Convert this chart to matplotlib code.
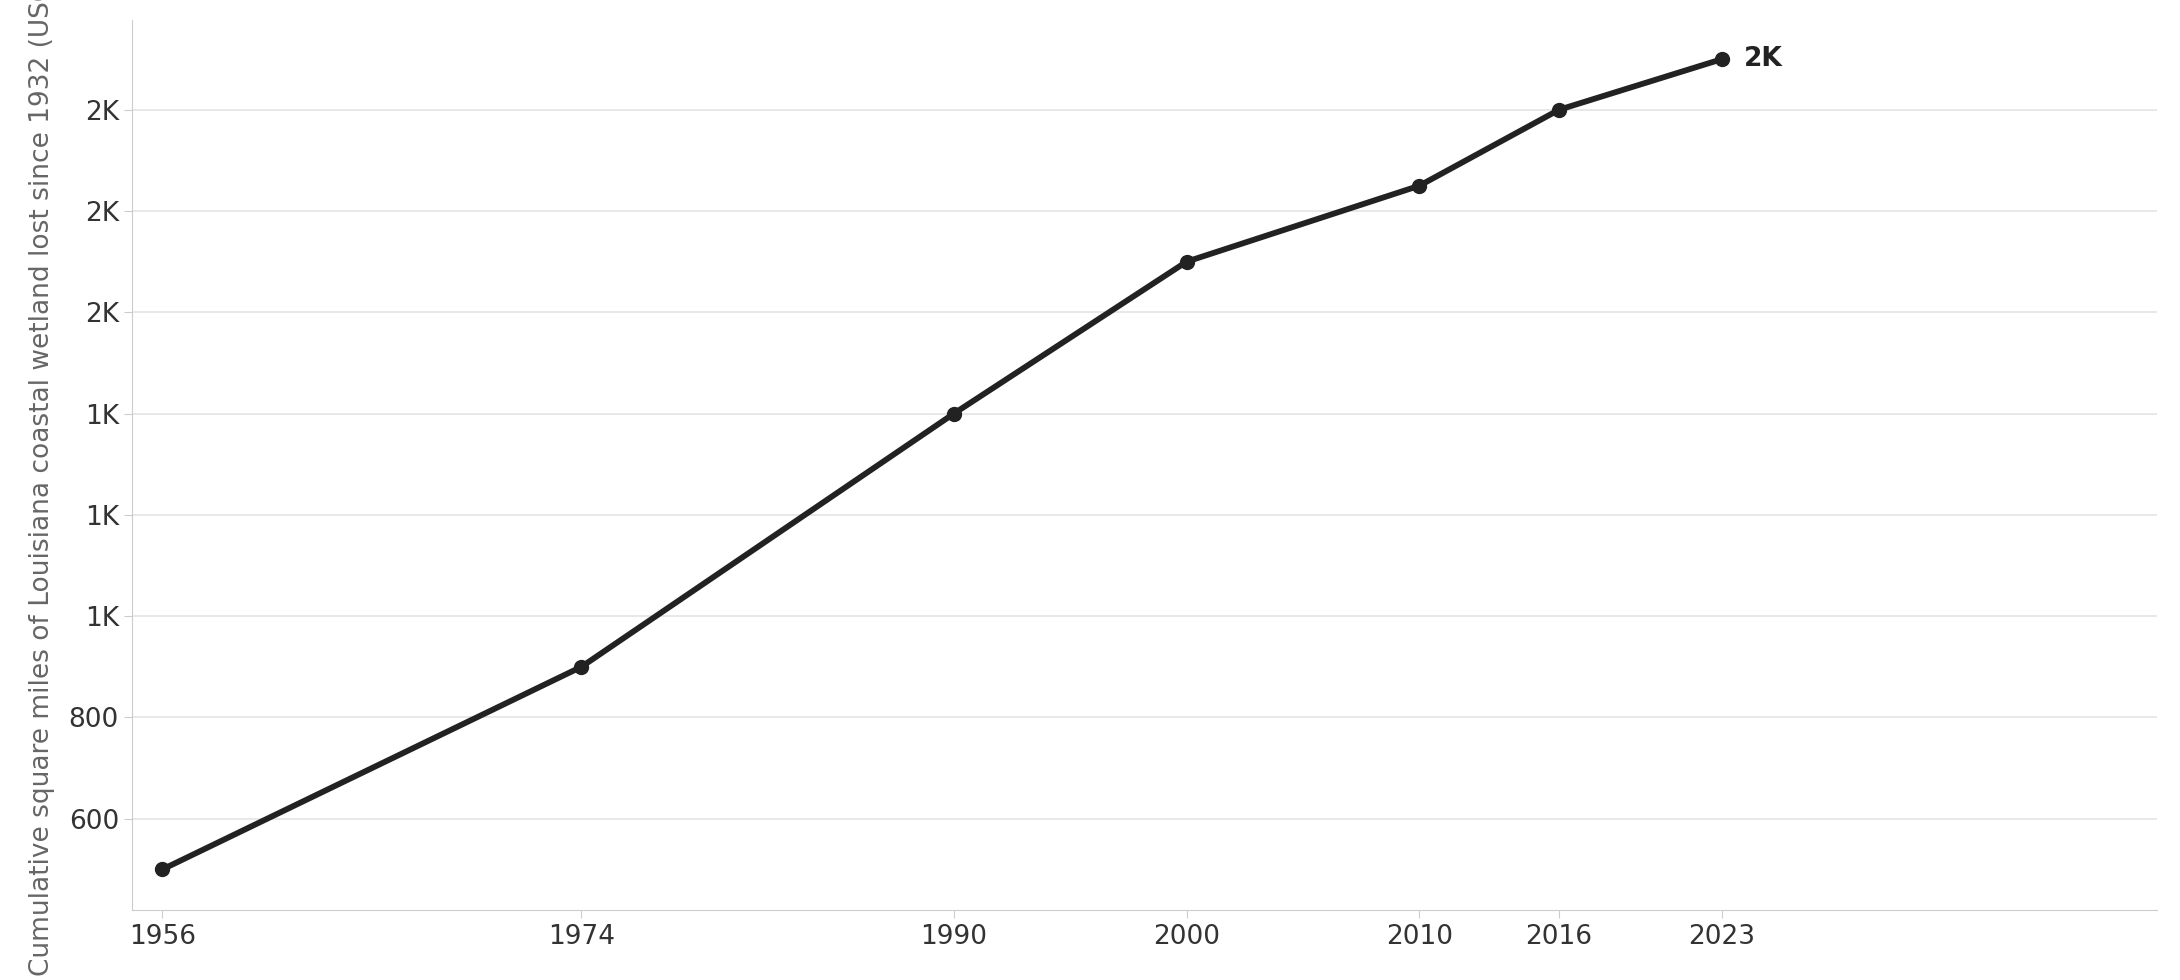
import matplotlib
matplotlib.use("Agg")
import matplotlib.pyplot as plt
from matplotlib.ticker import FuncFormatter

years = [1956, 1974, 1990, 2000, 2010, 2016, 2023]
values = [500, 900, 1400, 1700, 1850, 2000, 2100]
yticks = [600, 800, 1000, 1200, 1400, 1600, 1800, 2000]

plt.rcParams['font.family'] = ['DejaVu Sans']
fig = plt.figure(figsize=(21.8, 9.8), dpi=100)
ax = fig.add_axes([0.0606, 0.071, 0.929, 0.909])
ax.plot(years, values, color='#222222', lw=4.2, marker='o', ms=10, zorder=3)
ax.annotate('2K', (years[-1], values[-1]), xytext=(16, 0), textcoords='offset points',
            va='center', ha='left', fontsize=19, fontweight='bold', color='#222222')
ax.set_xlim(1954.7, 2041.7)
ax.set_ylim(419, 2178)
ax.set_xticks(years)
ax.set_yticks(yticks)
ax.yaxis.set_major_formatter(FuncFormatter(lambda v, p: f"{v/1000:.0f}K" if v >= 1000 else f"{v:.0f}"))
ax.grid(axis='y', color='#e6e6e6', lw=1.3)
ax.set_axisbelow(True)
for s in ['top', 'right']:
    ax.spines[s].set_visible(False)
for s in ['left', 'bottom']:
    ax.spines[s].set_color('#cccccc')
ax.tick_params(axis='both', labelsize=19, colors='#333333', length=6, color='#cccccc')
ax.set_ylabel('Cumulative square miles of Louisiana coastal wetland lost since 1932 (USGS)',
              fontsize=19, color='#666666', labelpad=10)
fig.savefig('out.png', dpi=100)
